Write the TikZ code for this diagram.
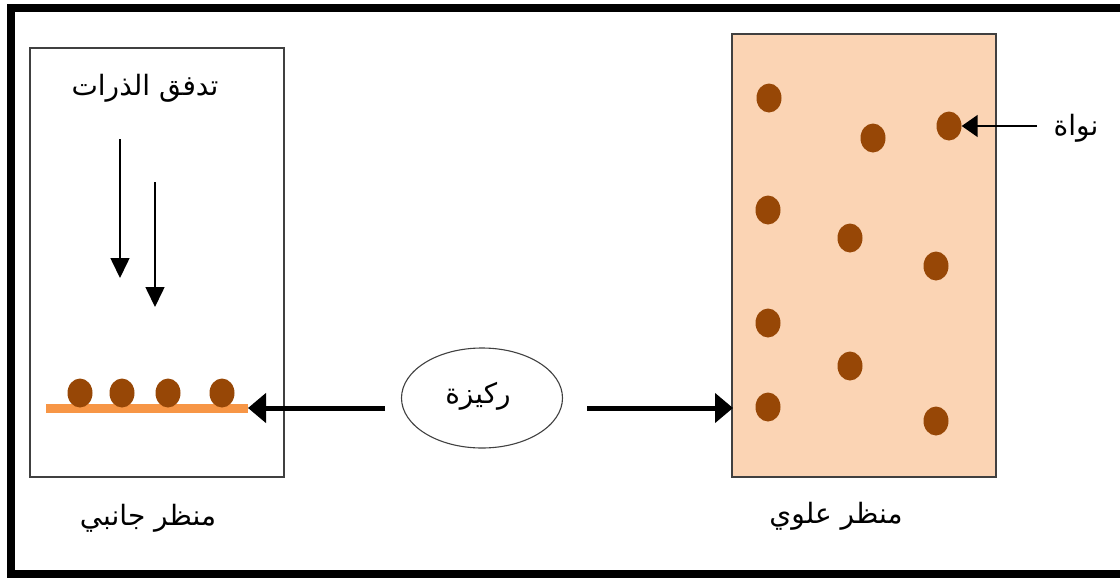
\documentclass[tikz,border=0pt]{standalone}
\usepackage{fontspec}
\usetikzlibrary{arrows.meta,shapes.geometric}
\TeXXeTstate=1
\newfontfamily\arabicfont[Script=Arabic]{DejaVu Sans}
\definecolor{peach}{HTML}{FBD4B4}
\definecolor{nucleus}{HTML}{974706}
\definecolor{substrate}{HTML}{F79646}
\definecolor{frame}{HTML}{404040}
\tikzset{
  panel/.style={draw=frame,line width=1.5pt,inner sep=0pt},
  dot/.style={ellipse,fill=nucleus,draw=none,minimum width=25pt,minimum height=29pt,inner sep=0pt},
  label/.style={font=\arabicfont\fontsize{28}{32}\selectfont,inner sep=1pt},
  bigarrow/.style={line width=5pt,-{Triangle[length=18pt,width=29pt]}},
  flow/.style={line width=1.6pt,-{Triangle[length=20pt,width=19pt]}},
  pointer/.style={line width=1.6pt,-{Triangle[length=16pt,width=22pt]}}
}
\begin{document}
\begin{tikzpicture}[x=1pt,y=-1pt]
\useasboundingbox (0,0) rectangle (1120,579);

% outer frame, open on the right
\begin{scope}
\clip (0,0) rectangle (1120,579);
\draw[line width=8.5pt] (1130,8) -- (11,8) -- (11,574) -- (1130,574);
\end{scope}

% side view panel
\node[panel,minimum width=254pt,minimum height=429pt] (side) at (157,262.5) {};
% top view panel
\node[panel,fill=peach,minimum width=264pt,minimum height=443pt] (top) at (864,255.5) {};

% substrate line with deposited nuclei
\coordinate (subL) at (46,408);
\coordinate (subR) at (248,408);
\draw[substrate,line width=9pt] (subL) -- (subR);
\node[dot] (s1) at (80,393) {};
\node[dot] (s2) at (122,393) {};
\node[dot] (s3) at (168,393) {};
\node[dot] (s4) at (222,393) {};

% atom flux
\node[label] (flux) at (145,88) {\beginR تدفق الذرات\endR};
\coordinate (f1a) at (120,139);
\coordinate (f1b) at (120,278);
\coordinate (f2a) at (155,182);
\coordinate (f2b) at (155,307);
\draw[flow] (f1a) -- (f1b);
\draw[flow] (f2a) -- (f2b);

% nuclei seen from above
\node[dot] (n1) at (769,98) {};
\node[dot] (n2) at (873,138) {};
\node[dot] (n3) at (949,126) {};
\node[dot] (n4) at (768,210) {};
\node[dot] (n5) at (850,238) {};
\node[dot] (n6) at (936,266) {};
\node[dot] (n7) at (768,323) {};
\node[dot] (n8) at (850,366) {};
\node[dot] (n9) at (768,407) {};
\node[dot] (n10) at (936,421) {};

% nucleus label
\node[label] (nlabel) at (1076,128) {\beginR نواة\endR};
\coordinate (nstart) at (1037,126);
\draw[pointer] (nstart) -- (n3);

% substrate in the middle
\node[ellipse,draw=frame,line width=1.1pt,minimum width=161pt,minimum height=100pt,inner sep=0pt] (sub) at (482,398) {};
\node[label] (sublabel) at (478,396) {\beginR ركيزة\endR};
\coordinate (la) at (385,408);
\coordinate (ra) at (587,408);
\coordinate (rtip) at (733,408);
\draw[bigarrow] (la) -- (subR);
\draw[bigarrow] (ra) -- (rtip);

% captions
\node[label] (sidecap) at (148,518) {\beginR منظر جانبي\endR};
\node[label] (topcap) at (836,516) {\beginR منظر علوي\endR};
\end{tikzpicture}
\end{document}
